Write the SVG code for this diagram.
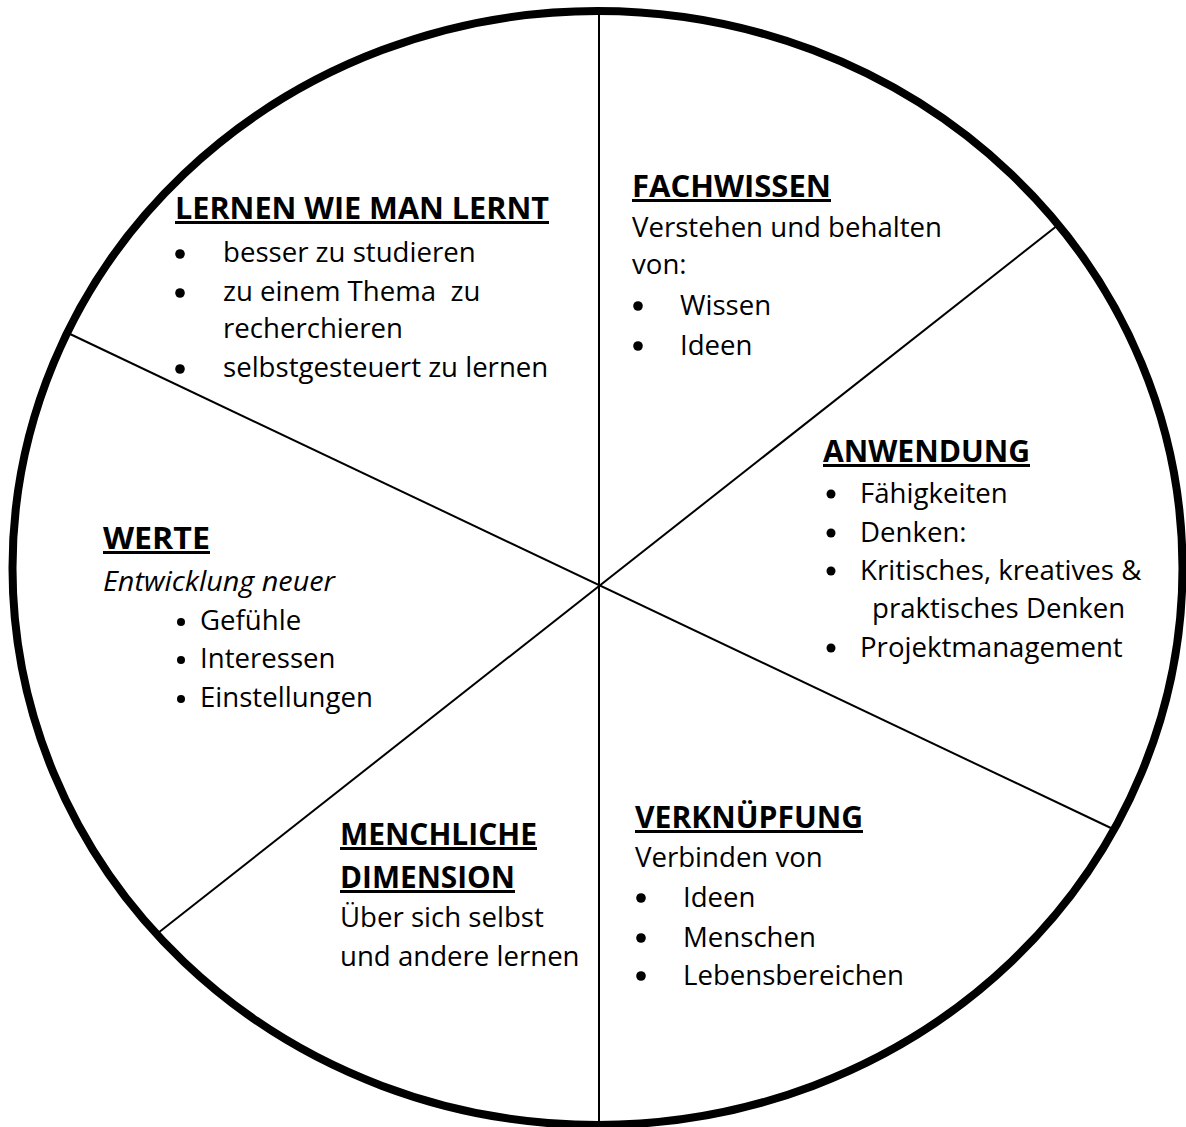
<svg xmlns="http://www.w3.org/2000/svg" width="1186" height="1127" viewBox="0 0 1186 1127">
<style>
text{font-family:"Open Sans","Noto Sans","DejaVu Sans",sans-serif;font-size:27.6px;fill:#000}
.h{font-weight:bold;text-decoration:underline;font-size:30px}
.i{font-style:italic}
.pre{white-space:pre}
.b{fill:#000}
.ln{stroke:#000;stroke-width:2;fill:none}
</style>
<rect width="1186" height="1127" fill="#fff"/>
<g id="connectors">
<line class="ln" x1="599" y1="11" x2="599" y2="1127"/>
<line class="ln" x1="70" y1="334" x2="1113" y2="829"/>
<line class="ln" x1="1058" y1="225" x2="158" y2="933"/>
</g>
<ellipse id="wheel" cx="597.5" cy="568" rx="585" ry="557" fill="none" stroke="#000" stroke-width="8"/>
<g id="lernen">
<text class="h" x="175" y="219" textLength="374" lengthAdjust="spacingAndGlyphs">LERNEN WIE MAN LERNT</text>
<circle class="b" cx="180" cy="254" r="4.8"/>
<text x="223" y="262">besser zu studieren</text>
<circle class="b" cx="180" cy="293" r="4.8"/>
<text class="pre" x="223" y="301" xml:space="preserve">zu einem Thema  zu</text>
<text x="223" y="338">recherchieren</text>
<circle class="b" cx="180" cy="369" r="4.8"/>
<text x="223" y="377">selbstgesteuert zu lernen</text>
</g>
<g id="fachwissen">
<text class="h" x="632" y="197" textLength="199" lengthAdjust="spacingAndGlyphs">FACHWISSEN</text>
<text x="632" y="237">Verstehen und behalten</text>
<text x="632" y="274">von:</text>
<circle class="b" cx="638" cy="306" r="4.8"/>
<text x="680" y="315">Wissen</text>
<circle class="b" cx="638" cy="346" r="4.8"/>
<text x="680" y="355">Ideen</text>
</g>
<g id="anwendung">
<text class="h" x="823" y="462" textLength="207" lengthAdjust="spacingAndGlyphs">ANWENDUNG</text>
<circle class="b" cx="831" cy="494" r="4.5"/>
<text x="860" y="503">Fähigkeiten</text>
<circle class="b" cx="831" cy="533" r="4.5"/>
<text x="860" y="542">Denken:</text>
<circle class="b" cx="831" cy="571" r="4.5"/>
<text x="860" y="580">Kritisches, kreatives &amp;</text>
<text x="872" y="618">praktisches Denken</text>
<circle class="b" cx="831" cy="648" r="4.5"/>
<text x="860" y="657">Projektmanagement</text>
</g>
<g id="werte">
<text class="h" x="103" y="549" textLength="107" lengthAdjust="spacingAndGlyphs">WERTE</text>
<text class="i" x="103" y="591" textLength="232" lengthAdjust="spacingAndGlyphs">Entwicklung neuer</text>
<circle class="b" cx="181" cy="622" r="4"/>
<text x="200" y="630">Gefühle</text>
<circle class="b" cx="181" cy="660" r="4"/>
<text x="200" y="668">Interessen</text>
<circle class="b" cx="181" cy="699" r="4"/>
<text x="200" y="707">Einstellungen</text>
</g>
<g id="menschlich">
<text class="h" x="340" y="845" textLength="197" lengthAdjust="spacingAndGlyphs">MENCHLICHE</text>
<text class="h" x="340" y="888" textLength="175" lengthAdjust="spacingAndGlyphs">DIMENSION</text>
<text x="340" y="927">Über sich selbst</text>
<text x="340" y="966">und andere lernen</text>
</g>
<g id="verknuepfung">
<text class="h" x="635" y="828" textLength="228" lengthAdjust="spacingAndGlyphs">VERKNÜPFUNG</text>
<text x="635" y="867">Verbinden von</text>
<circle class="b" cx="641" cy="898" r="4.8"/>
<text x="683" y="907">Ideen</text>
<circle class="b" cx="641" cy="938" r="4.8"/>
<text x="683" y="947">Menschen</text>
<circle class="b" cx="641" cy="976" r="4.8"/>
<text x="683" y="985">Lebensbereichen</text>
</g>
</svg>
